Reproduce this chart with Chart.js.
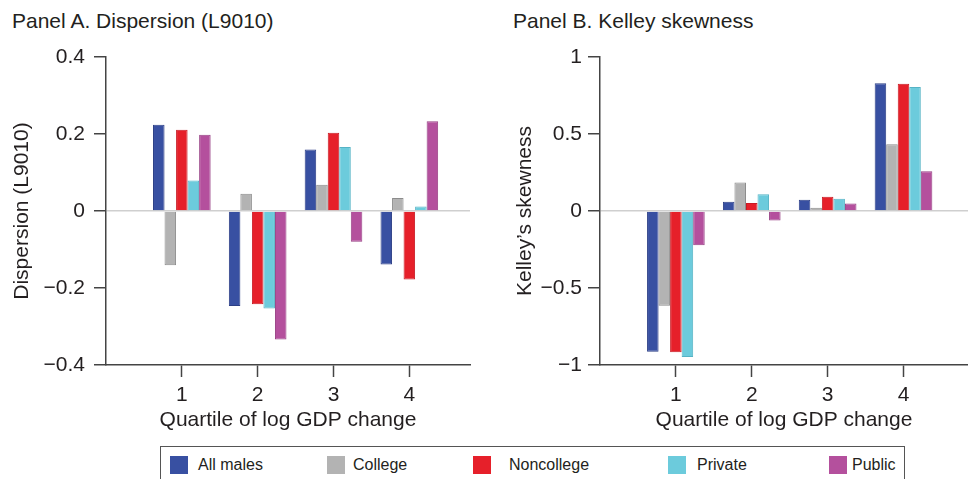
<!DOCTYPE html>
<html>
<head>
<meta charset="utf-8">
<script src="https://cdn.jsdelivr.net/npm/chart.js@4/dist/chart.umd.min.js"></script>
<style>
  body { margin: 0; background: #fff; width: 968px; height: 479px; overflow: hidden; position: relative;
         font-family: "Liberation Sans", Arial, Helvetica, sans-serif; color: #231f20; }
  .ptitle { position: absolute; top: 9px; font-size: 21px; line-height: 24px; white-space: nowrap; }
  canvas { position: absolute; top: 0; }
  #legend { position: absolute; left: 160px; top: 446px; width: 745px; height: 50px;
            border: 1.5px solid #555; box-sizing: border-box; }
  .sw { position: absolute; top: 9px; width: 18px; height: 18px; }
  .lt { position: absolute; top: 9px; font-size: 16px; line-height: 18px; white-space: nowrap; }
</style>
</head>
<body>
<div class="ptitle" style="left:12px">Panel A. Dispersion (L9010)</div>
<div class="ptitle" style="left:513px">Panel B. Kelley skewness</div>
<canvas id="panelA" width="484" height="440" style="left:0"></canvas>
<canvas id="panelB" width="484" height="440" style="left:484px"></canvas>
<div id="legend"></div>

<script>
// Quartiles of log GDP change (x positions of the bar groups)
const quartiles = [1, 2, 3, 4];

// Series names and fill colours
const seriesNames = ['All males', 'College', 'Noncollege', 'Private', 'Public'];
const seriesColors = ['#3850a2', '#b3b3b3', '#e6202a', '#6ccbdc', '#b4509d'];
const seriesBorders = ['#2c3f86', '#8c8c8c', '#c81b24', '#55b3c5', '#973f84'];

// Panel A: dispersion (L9010) by quartile
const dispAllMales   = [0.224, -0.247, 0.160, -0.139];
const dispCollege    = [-0.141, 0.045, 0.068, 0.034];
const dispNoncollege = [0.211, -0.242, 0.203, -0.178];
const dispPrivate    = [0.079, -0.253, 0.166, 0.012];
const dispPublic     = [0.198, -0.334, -0.080, 0.233];

// Panel B: Kelley's skewness by quartile
const skewAllMales   = [-0.914, 0.060, 0.073, 0.830];
const skewCollege    = [-0.616, 0.185, 0.021, 0.433];
const skewNoncollege = [-0.918, 0.052, 0.092, 0.826];
const skewPrivate    = [-0.948, 0.109, 0.079, 0.805];
const skewPublic     = [-0.223, -0.062, 0.049, 0.258];

// Y tick values
const dispTicks = [-0.4, -0.2, 0, 0.2, 0.4];
const skewTicks = [-1, -0.5, 0, 0.5, 1];

const FONT = '"Liberation Sans", Arial, Helvetica, sans-serif';
const INK = '#231f20';
const AXIS = '#444444';

function fmtTick(v) {
  if (Math.abs(v) < 1e-9) return '0';
  return (v < 0 ? '\u2212' : '') + String(Math.abs(v));
}

function buildDatasets(seriesValues) {
  return seriesValues.map((vals, i) => ({
    label: seriesNames[i],
    data: quartiles.map((q, j) => ({ x: q, y: vals[j] })),
    backgroundColor: seriesColors[i],
    borderColor: seriesBorders[i],
    borderWidth: 1,
    categoryPercentage: 0.76,
    barPercentage: 1.0
  }));
}

function makePanel(canvasId, seriesValues, yTicks, xMax, yTitle, yScaleWidth, yTitlePad, yLabelPad, rightPad) {
  return new Chart(document.getElementById(canvasId), {
    type: 'bar',
    data: { datasets: buildDatasets(seriesValues) },
    options: {
      responsive: false,
      animation: false,
      events: [],
      layout: { padding: { top: 57, right: rightPad, left: 0, bottom: 0 } },
      plugins: { legend: { display: false }, tooltip: { enabled: false }, title: { display: false } },
      scales: {
        x: {
          type: 'linear',
          min: 0,
          max: xMax,
          offset: false,
          afterBuildTicks: (s) => { s.ticks = quartiles.map(v => ({ value: v })); },
          afterFit: (s) => { s.height = 75; },
          ticks: {
            color: INK, padding: 6, maxRotation: 0, autoSkip: false,
            font: { family: FONT, size: 21 },
            callback: (v) => String(v)
          },
          grid: { offset: false, drawOnChartArea: false, drawTicks: true, tickLength: 12, tickColor: AXIS, tickWidth: 1.5 },
          border: { display: true, color: AXIS, width: 1.5 },
          title: {
            display: true, text: 'Quartile of log GDP change', color: INK,
            font: { family: FONT, size: 21 }, padding: { top: 0, bottom: 7 }
          }
        },
        y: {
          min: yTicks[0],
          max: yTicks[yTicks.length - 1],
          afterBuildTicks: (s) => { s.ticks = yTicks.map(v => ({ value: v })); },
          afterFit: (s) => { s.width = yScaleWidth; },
          ticks: {
            color: INK, padding: yLabelPad,
            font: { family: FONT, size: 21 },
            callback: (v) => fmtTick(v)
          },
          grid: {
            drawTicks: true, tickLength: 12, tickColor: AXIS, tickWidth: 1.5,
            lineWidth: 1.5,
            color: (ctx) => (ctx.tick && Math.abs(ctx.tick.value) < 1e-9) ? '#cfcfcf' : 'rgba(0,0,0,0)'
          },
          border: { display: true, color: AXIS, width: 1.5 },
          title: {
            display: true, text: yTitle, color: INK,
            font: { family: FONT, size: 21 }, padding: { top: yTitlePad, bottom: 0 }
          }
        }
      }
    }
  });
}

makePanel('panelA',
  [dispAllMales, dispCollege, dispNoncollege, dispPrivate, dispPublic],
  dispTicks, 4.8, 'Dispersion (L9010)', 106, 10, 9, 14);

makePanel('panelB',
  [skewAllMales, skewCollege, skewNoncollege, skewPrivate, skewPublic],
  skewTicks, 4.85, 'Kelley\u2019s skewness', 116, 29, 6, 0);

// Shared legend below both panels
const legendSwatchX = [9, 166, 312, 507, 668];
const legendTextX = [37, 192, 348, 536, 691];
const legend = document.getElementById('legend');
seriesNames.forEach((name, i) => {
  const sw = document.createElement('div');
  sw.className = 'sw';
  sw.style.left = legendSwatchX[i] + 'px';
  sw.style.background = seriesColors[i];
  legend.appendChild(sw);
  const t = document.createElement('div');
  t.className = 'lt';
  t.style.left = legendTextX[i] + 'px';
  t.textContent = name;
  legend.appendChild(t);
});
</script>
</body>
</html>
